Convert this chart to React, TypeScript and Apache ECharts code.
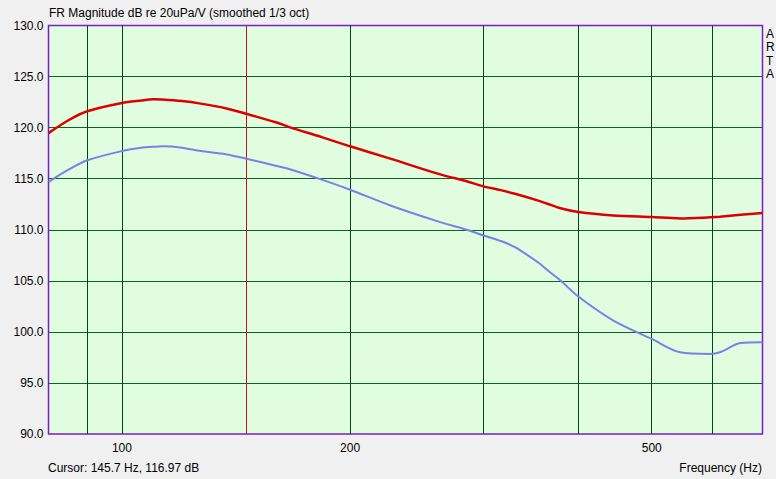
import React, { useEffect, useRef } from "react";
import * as echarts from "echarts";

const freqHz = [80, 85, 90, 100, 106, 110, 113, 120, 127, 137, 146, 160, 167, 183, 200, 226, 263, 285, 300, 316, 330, 356, 364, 379, 400, 445, 500, 545, 597, 615, 655, 700];
const redDb = [119.46, 120.72, 121.6, 122.41, 122.65, 122.77, 122.75, 122.6, 122.35, 121.9, 121.35, 120.5, 120.0, 119.1, 118.17, 116.96, 115.42, 114.75, 114.25, 113.88, 113.52, 112.8, 112.55, 112.1, 111.73, 111.4, 111.24, 111.11, 111.22, 111.28, 111.47, 111.63];
const blueDb = [114.67, 115.88, 116.8, 117.71, 118.04, 118.12, 118.17, 118.04, 117.7, 117.4, 116.96, 116.25, 115.9, 114.93, 113.92, 112.38, 110.75, 110.0, 109.44, 108.9, 108.3, 106.67, 106.05, 105.03, 103.46, 101.11, 99.31, 98.0, 97.84, 98.0, 98.9, 98.98];
const xGridHz = [90, 100, 200, 300, 400, 500, 600];
const xLabelHz = [100, 200, 500];
const cursorHz = 145.7;
const cursorDb = 116.97;
const titleText = "FR Magnitude dB re 20uPa/V (smoothed 1/3 oct)";
const xAxisTitle = "Frequency (Hz)";
const brandText = "A\nR\nT\nA";

const FONT = 'Arial, "Liberation Sans", sans-serif';

export default function App() {
  const ref = useRef<HTMLDivElement>(null);
  useEffect(() => {
    if (!ref.current) return;
    const chart = echarts.init(ref.current, null, { renderer: "svg" });
    const gridLineItems: any[] = xGridHz.map((f) => ({
      xAxis: f,
      lineStyle: { color: "#00461a", width: 1, type: "solid" },
    }));
    gridLineItems.push({
      xAxis: cursorHz,
      lineStyle: { color: "#c81414", width: 1, type: "solid" },
    });
    chart.setOption({
      animation: false,
      backgroundColor: "#f0f0f0",
      textStyle: { fontFamily: FONT },
      grid: {
        left: 48.5,
        top: 25.5,
        right: 13.5,
        bottom: 45,
        show: true,
        backgroundColor: "#e0fde0",
        borderColor: "#7a1ccc",
        borderWidth: 1.5,
      },
      xAxis: {
        type: "log",
        logBase: 10,
        min: 80,
        max: 700,
        axisLine: { show: false },
        axisTick: { show: false },
        splitLine: { show: false },
        axisLabel: {
          customValues: xLabelHz,
          color: "#000",
          fontSize: 12,
          fontFamily: FONT,
          margin: 8,
          formatter: (v: number) => String(Math.round(v)),
        },
      },
      yAxis: {
        type: "value",
        min: 90,
        max: 130,
        interval: 5,
        axisLine: { show: false },
        axisTick: { show: false },
        splitLine: {
          show: true,
          showMinLine: false,
          showMaxLine: false,
          lineStyle: { color: "#0a6426", width: 1 },
        },
        axisLabel: {
          color: "#000",
          fontSize: 12,
          fontFamily: FONT,
          margin: 5,
          formatter: (v: number) => v.toFixed(1),
        },
      },
      series: [
        {
          name: "blue",
          type: "line",
          z: 3,
          showSymbol: false,
          smooth: 0.3,
          data: freqHz.map((f, i) => [f, blueDb[i]]),
          lineStyle: { color: "#7b80e4", width: 2 },
          itemStyle: { color: "#7b80e4" },
          markLine: {
            silent: true,
            z: 1,
            symbol: ["none", "none"],
            label: { show: false },
            emphasis: { disabled: true },
            data: gridLineItems,
          },
        },
        {
          name: "red",
          type: "line",
          z: 4,
          showSymbol: false,
          smooth: 0.3,
          data: freqHz.map((f, i) => [f, redDb[i]]),
          lineStyle: { color: "#dc0000", width: 2.5 },
          itemStyle: { color: "#dc0000" },
        },
      ],
      graphic: [
        {
          type: "text",
          left: 49,
          top: 7,
          style: { text: titleText, font: `12px ${FONT}`, fill: "#000" },
        },
        {
          type: "text",
          left: 766,
          top: 27,
          style: { text: brandText, font: `12px ${FONT}`, fill: "#000", lineHeight: 13.5 },
        },
        {
          type: "text",
          left: 48,
          top: 462,
          style: {
            text: `Cursor: ${cursorHz} Hz, ${cursorDb} dB`,
            font: `12px ${FONT}`,
            fill: "#000",
          },
        },
        {
          type: "text",
          right: 14,
          top: 462,
          style: { text: xAxisTitle, font: `12px ${FONT}`, fill: "#000" },
        },
      ],
    });
    return () => chart.dispose();
  }, []);
  return (
    <div
      ref={ref}
      style={{ position: "fixed", left: 0, top: 0, width: 776, height: 479 }}
    />
  );
}
